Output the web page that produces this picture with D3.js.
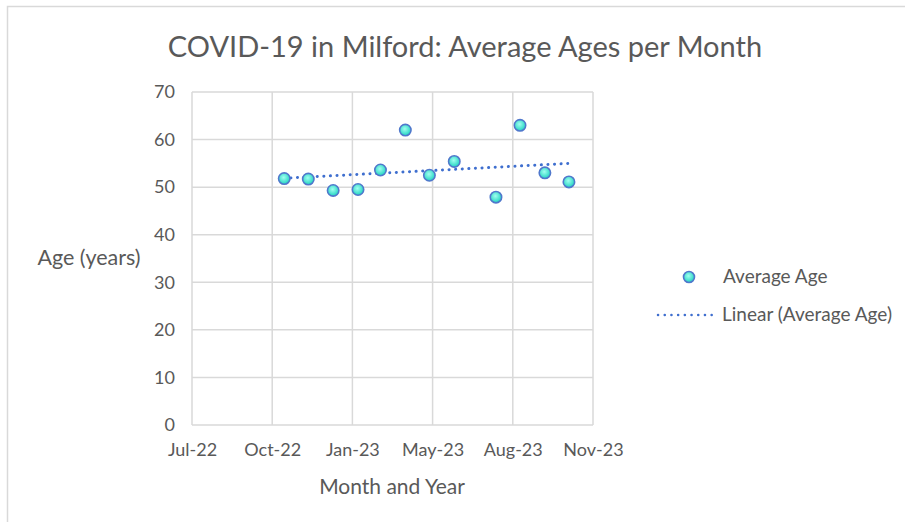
<!DOCTYPE html>
<html>
<head>
<meta charset="utf-8">
<script src="https://cdn.jsdelivr.net/npm/d3@7/dist/d3.min.js"></script>
<style>
html, body { margin: 0; padding: 0; background: #fff; }
svg { display: block; }
text { font-family: Lato, "Open Sans", sans-serif; fill: #595959; }
</style>
</head>
<body>
<svg id="chart" width="905" height="522"></svg>
<script>
// ---- data ----
const monthDates = ["2022-11-01","2022-12-01","2023-01-01","2023-02-01","2023-03-01","2023-04-01",
                    "2023-05-01","2023-06-01","2023-07-23","2023-08-22","2023-09-22","2023-10-22"];
const averageAges = [51.8, 51.7, 49.3, 49.5, 53.6, 62.0, 52.5, 55.4, 47.9, 63.0, 53.0, 51.1];
const xTickDates = ["2022-07-09","2022-10-17","2023-01-25","2023-05-05","2023-08-13","2023-11-21"];
const xTickLabels = ["Jul-22","Oct-22","Jan-23","May-23","Aug-23","Nov-23"];
const yTicks = [0, 10, 20, 30, 40, 50, 60, 70];
const chartTitle = "COVID-19 in Milford: Average Ages per Month";
const xTitle = "Month and Year";
const yTitle = "Age (years)";
const legendLabels = ["Average Age", "Linear (Average Age)"];

(function () {
const parse = d3.utcParse("%Y-%m-%d");
const svg = d3.select("#chart");

const pL = 192, pR = 593, pT = 92, pB = 425;
const x = d3.scaleUtc()
  .domain([parse(xTickDates[0]), parse(xTickDates[xTickDates.length - 1])])
  .range([pL, pR]);
const y = d3.scaleLinear().domain([0, 70]).range([pB, pT]);

// chart border (top and left visible)
svg.append("path").attr("d", "M7.5,522 L7.5,6.5 L905,6.5")
  .attr("fill", "none").attr("stroke", "#d9d9d9").attr("stroke-width", 1.5);

// gridlines
svg.append("g").selectAll("line").data(yTicks).join("line")
  .attr("x1", pL).attr("x2", pR)
  .attr("y1", d => y(d)).attr("y2", d => y(d))
  .attr("stroke", "#d9d9d9").attr("stroke-width", 1.5);
svg.append("g").selectAll("line").data(xTickDates).join("line")
  .attr("x1", d => x(parse(d))).attr("x2", d => x(parse(d)))
  .attr("y1", pT).attr("y2", pB)
  .attr("stroke", "#d9d9d9").attr("stroke-width", 1.5);

// axes (labels only)
const yAxis = d3.axisLeft(y).tickValues(yTicks).tickSize(0).tickPadding(17);
svg.append("g").attr("transform", `translate(${pL},0)`).call(yAxis)
  .call(g => g.select(".domain").remove())
  .selectAll("text").style("font-size", "18px").attr("fill", "#595959")
  .style("font-family", "Lato, sans-serif");

const xAxis = d3.axisBottom(x).tickValues(xTickDates.map(parse))
  .tickFormat((d, i) => xTickLabels[i]).tickSize(0).tickPadding(18);
svg.append("g").attr("transform", `translate(0,${pB})`).call(xAxis)
  .call(g => g.select(".domain").remove())
  .selectAll("text").style("font-size", "18px").attr("fill", "#595959")
  .style("font-family", "Lato, sans-serif");

// titles
svg.append("text").attr("x", 465).attr("y", 57).attr("text-anchor", "middle")
  .style("font-size", "29px").text(chartTitle);
svg.append("text").attr("x", 392).attr("y", 494).attr("text-anchor", "middle")
  .style("font-size", "21px").text(xTitle);
svg.append("text").attr("x", 89).attr("y", 265).attr("text-anchor", "middle")
  .style("font-size", "21.5px").text(yTitle);

// gradient for markers
const defs = svg.append("defs");
const grad = defs.append("radialGradient").attr("id", "mk").attr("cx", "45%").attr("cy", "40%").attr("r", "60%");
grad.append("stop").attr("offset", "0%").attr("stop-color", "#a0fff0");
grad.append("stop").attr("offset", "100%").attr("stop-color", "#1fd3c0");

// trendline (least squares)
const pts = monthDates.map((d, i) => ({ t: parse(d), v: averageAges[i] }));
const xs = pts.map(p => +p.t), ys = pts.map(p => p.v);
const mx = d3.mean(xs), my = d3.mean(ys);
const slope = d3.sum(xs.map((xv, i) => (xv - mx) * (ys[i] - my))) / d3.sum(xs.map(xv => (xv - mx) ** 2));
const icpt = my - slope * mx;
const tEnds = [d3.min(xs), d3.max(xs) + 3 * 86400000];
svg.append("line")
  .attr("x1", x(new Date(tEnds[0]))).attr("y1", y(icpt + slope * tEnds[0]))
  .attr("x2", x(new Date(tEnds[1]))).attr("y2", y(icpt + slope * tEnds[1]))
  .attr("stroke", "#3f6fcf").attr("stroke-width", 3)
  .attr("stroke-dasharray", "0.1 6.5").attr("stroke-linecap", "round");

// markers
svg.append("g").selectAll("circle").data(pts).join("circle")
  .attr("cx", d => x(d.t)).attr("cy", d => y(d.v)).attr("r", 5.7)
  .attr("fill", "url(#mk)").attr("stroke", "#5078cc").attr("stroke-width", 1.6);

// legend
const lg = svg.append("g");
lg.append("circle").attr("cx", 689).attr("cy", 277).attr("r", 5.5)
  .attr("fill", "url(#mk)").attr("stroke", "#5078cc").attr("stroke-width", 1.6);
lg.append("text").attr("x", 723).attr("y", 283).style("font-size", "19px").text(legendLabels[0]);
lg.append("line").attr("x1", 658).attr("x2", 712).attr("y1", 315).attr("y2", 315)
  .attr("stroke", "#3f6fcf").attr("stroke-width", 2.5)
  .attr("stroke-dasharray", "0.1 6.6").attr("stroke-linecap", "round");
lg.append("text").attr("x", 722).attr("y", 321).style("font-size", "19px").text(legendLabels[1]);
})();
</script>
</body>
</html>
